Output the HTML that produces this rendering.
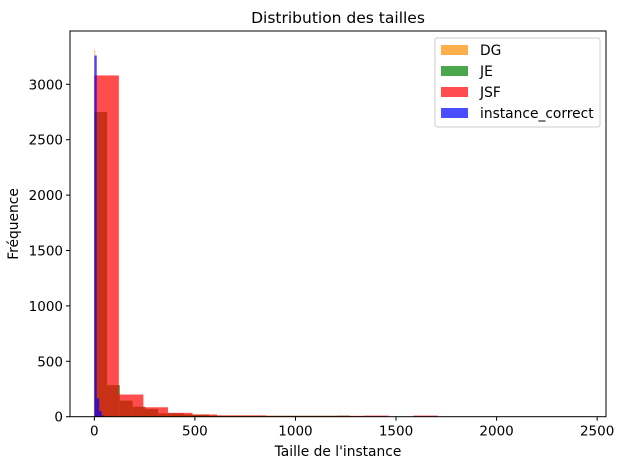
<!DOCTYPE html>
<html><head><meta charset="utf-8"><style>
body{margin:0;background:#fff;position:relative;width:622px;height:462px;overflow:hidden}
svg text{font-family:"DejaVu Sans","Liberation Sans",sans-serif;fill:#000;}
</style></head><body>
<svg id="chart" width="622" height="462" xmlns="http://www.w3.org/2000/svg">
<rect width="622" height="462" fill="#fff"/>
<g id="bars"></g>
<g id="axes"></g>
</svg>
<script>
const seriesNames = ["DG","JE","JSF","instance_correct"];
const seriesColors = ["#ff8c00","#008000","#ff0000","#0000ff"];
const binStarts = [0,0,0,0];
const binWidths = [4,63.5,122,12];
const dgCounts = [3310,300,80,30,10,5];
const jeCounts = [2750,285,145,90,70,30,30,20,20,10,8,8,8,8,8,8,8,8,8,10];
const jsfCounts = [3080,200,85,35,20,12,12,8,8,8,8,10,0,10,0,0,0,0,0,3];
const correctCounts = [3260,166,50,10,5];
const xTicks = [0,500,1000,1500,2000,2500];
const yTicks = [0,500,1000,1500,2000,2500,3000];
const allCounts = [dgCounts, jeCounts, jsfCounts, correctCounts];

const L=70,R=606,T=31,B=416.7;
const xmin=-121,xmax=2544;
const X=v=>L+(v-xmin)/(xmax-xmin)*(R-L);
const Y=v=>B-v*0.1108;
const NS="http://www.w3.org/2000/svg";
function mk(tag,attrs,parent){const e=document.createElementNS(NS,tag);for(const k in attrs)e.setAttribute(k,attrs[k]);parent.appendChild(e);return e;}
const bars=document.getElementById('bars'), axes=document.getElementById('axes');

allCounts.forEach((counts,s)=>{
  counts.forEach((c,i)=>{
    if(c<=0) return;
    const x0=X(binStarts[s]+i*binWidths[s]), x1=X(binStarts[s]+(i+1)*binWidths[s]);
    const r=mk('rect',{x:x0,y:Y(c),width:x1-x0,height:B-Y(c),fill:seriesColors[s],'fill-opacity':0.7},bars);
    
    
  });
});

const frame=mk('rect',{x:L,y:T,width:R-L,height:B-T,fill:'none',stroke:'#000','stroke-width':1},axes);


xTicks.forEach(t=>{
  mk('line',{x1:X(t),x2:X(t),y1:B,y2:B+4,stroke:'#000'},axes);
  const tx=mk('text',{x:X(t),y:B+19,'text-anchor':'middle','font-size':13.5},axes);
  tx.textContent=t;
  
  
});
yTicks.forEach(t=>{
  mk('line',{x1:L-4,x2:L,y1:Y(t),y2:Y(t),stroke:'#000'},axes);
  const tx=mk('text',{x:L-7,y:Y(t)+5,'text-anchor':'end','font-size':13.5},axes);
  tx.textContent=t;
  
  
});
</script>
<svg width="622" height="462" style="position:absolute;left:0;top:0" xmlns="http://www.w3.org/2000/svg">
<text x="338" y="23" text-anchor="middle" font-size="15.5">Distribution des tailles</text>
<text x="338" y="456" text-anchor="middle" font-size="13.8">Taille de l'instance</text>
<text x="18" y="224" text-anchor="middle" font-size="13.8" transform="rotate(-90 18 224)">Fréquence</text>
<g>
<rect x="435" y="38" width="165" height="89" rx="2" fill="#fff" fill-opacity="0.8" stroke="#ccc"/>
<g><rect x="441" y="45" width="27" height="10" fill="#ff8c00" fill-opacity="0.7"/><text x="480" y="55" font-size="13.8">DG</text></g>
<g><rect x="441" y="66" width="27" height="10" fill="#008000" fill-opacity="0.7"/><text x="480" y="76" font-size="13.8">JE</text></g>
<g><rect x="441" y="87" width="27" height="10" fill="#ff0000" fill-opacity="0.7"/><text x="480" y="97" font-size="13.8">JSF</text></g>
<g><rect x="441" y="108" width="27" height="10" fill="#0000ff" fill-opacity="0.7"/><text x="480" y="118" font-size="13.8">instance_correct</text></g>
</g>
</svg>
</body></html>
